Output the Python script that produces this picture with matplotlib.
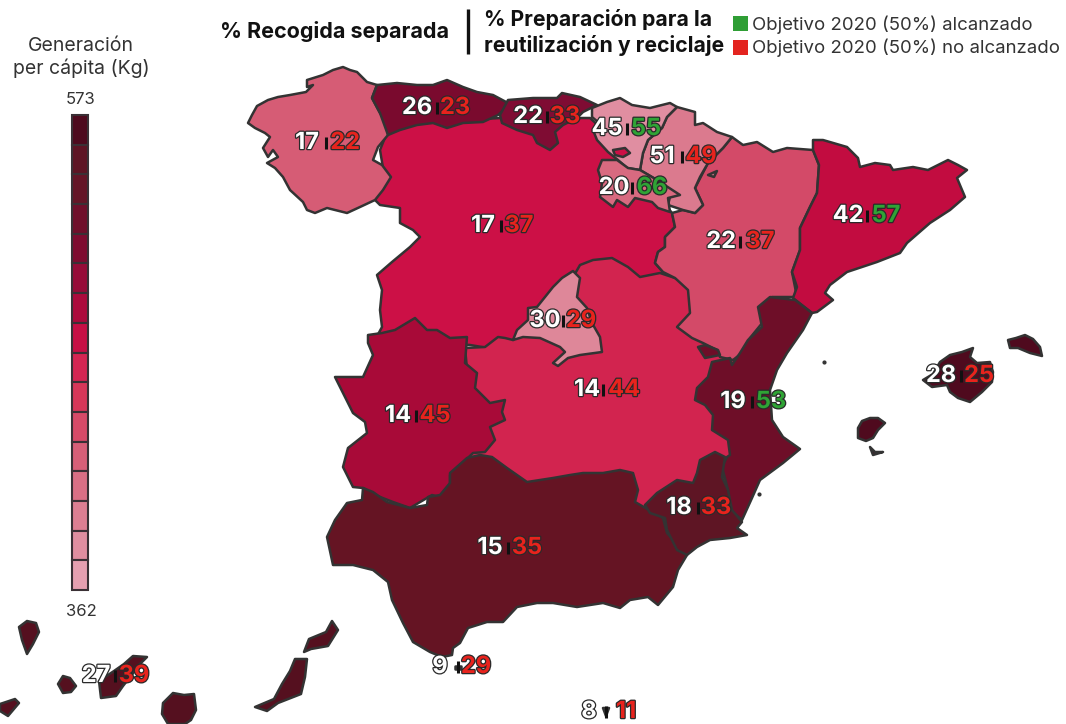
import matplotlib
matplotlib.use("Agg")
import matplotlib.pyplot as plt
import matplotlib.patheffects as pe
from matplotlib.patches import Polygon, Rectangle

plt.rcParams['font.family'] = ['Inter', 'Lato', 'DejaVu Sans']

# ---- data ----
regions = ["Galicia", "Asturias", "Cantabria", "País Vasco", "Navarra", "La Rioja",
           "Castilla y León", "Aragón", "Cataluña", "Madrid", "Castilla-La Mancha",
           "Extremadura", "C. Valenciana", "Murcia", "Andalucía", "Baleares",
           "Canarias", "Ceuta", "Melilla"]
recogida = [17, 26, 22, 45, 51, 20, 17, 22, 42, 30, 14, 14, 19, 18, 15, 28, 27, 9, 8]
preparacion = [22, 23, 33, 55, 49, 66, 37, 37, 57, 29, 44, 45, 53, 33, 35, 25, 39, 29, 11]
objetivo = 50
scale_max, scale_min = "573", "362"
scale_colors = ["#4e0a1e", "#5e1424", "#651527", "#700f2b", "#7e0c30", "#960c38", "#ac0a3c", "#c70f45",
                "#d42552", "#d63759", "#d64a68", "#d75f78", "#d96f85", "#dc7e92", "#df8ea0", "#e59fb0"]

# label anchor: (first number, separator, second number, y)
label_pos = [(307, 326, 345, 143), (417, 437, 455, 108), (528, 547, 565, 117), (607, 627, 646, 129),
             (662, 682, 701, 157), (614, 632, 652, 188), (483, 501, 519, 226), (721, 740, 760, 242),
             (848, 867, 886, 216), (545, 563, 581, 321), (587, 603, 624, 390), (398, 416, 435, 416),
             (733, 752, 771, 402), (679, 698, 716, 508), (490, 508, 527, 548), (941, 961, 979, 376),
             (96, 115, 134, 676), (440, 458, 476, 667), (589, 606, 626, 712)]

# ---- outlines in image pixels, painted bottom to top ----
cyl = [(380,150),(390,125),(500,118),(590,118),(625,150),(650,195),(668,208),(672,213),(675,227),(665,237),
       (665,247),(658,252),(655,263),(663,272),(640,290),(500,350),(470,345),(375,340),(382,327),(380,310),
       (382,290),(377,275),(392,262),(410,247),(420,237),(413,230),(400,223),(400,208),(380,205),(375,200),(385,180)]
galicia = [(377,85),(367,82),(357,72),(350,70),(343,67),(333,70),(323,75),(307,80),(307,87),(313,85),(306,92),(290,95),
           (278,97),(268,100),(257,106),(252,115),(248,123),(255,128),(265,133),(270,137),(263,148),(268,157),
           (273,150),(278,157),(267,163),(275,168),(283,177),(290,190),(303,202),(307,210),(315,213),(327,208),
           (347,213),(360,207),(375,200),(383,190),(391,177),(382,165),(373,160),(378,147),(388,135),(387,123),
           (380,113),(372,98)]
asturias = [(377,85),(372,98),(380,113),(388,135),(400,130),(417,125),(433,123),(447,128),(463,123),(483,122),
            (498,115),(507,107),(508,103),(493,95),(477,92),(463,87),(447,80),(433,85),(417,85),(397,83)]
cantabria = [(508,100),(533,98),(557,98),(562,93),(580,97),(597,105),(583,112),(577,118),(563,125),(555,132),
             (558,143),(550,150),(537,143),(533,135),(517,130),(502,123),(500,115)]
clm = [(465,348),(485,347),(498,337),(505,338),(513,340),(560,300),(580,265),(593,260),(612,258),(628,267),
       (640,277),(660,273),(675,278),(700,290),(735,345),(735,470),(660,515),(600,520),(500,490),(470,470),(470,400)]
madrid = [(573,271),(580,278),(577,297),(587,308),(592,323),(600,337),(602,352),(580,355),(568,358),(558,366),
          (553,363),(565,352),(560,347),(540,338),(523,337),(513,340),(517,330),(528,320),(528,308),(537,307),
          (553,287),(562,278)]
aragon = [(732,137),(743,145),(757,142),(773,152),(787,148),(813,150),(819,165),(817,193),(810,207),(800,228),
          (800,250),(792,272),(797,297),(772,297),(760,307),(763,322),(750,338),(742,353),(733,360),(720,357),
          (717,350),(703,343),(692,338),(677,327),(690,313),(688,290),(675,278),(663,272),(655,263),(658,252),
          (665,247),(665,237),(675,227),(672,213),(683,210),(695,213),(703,205),(695,188),(708,163),(723,148)]
cataluna = [(813,140),(823,140),(847,147),(858,158),(860,167),(875,163),(890,165),(893,170),(913,167),(928,170),
            (948,160),(958,165),(967,170),(957,178),(965,197),(950,210),(930,223),(907,243),(900,253),(877,262),
            (847,272),(830,285),(825,293),(833,300),(817,312),(812,313),(793,298),(797,287),(792,272),(800,250),
            (800,228),(810,207),(817,193),(819,165),(813,150)]
navarra = [(677,107),(695,112),(695,125),(703,123),(717,132),(732,137),(723,148),(708,163),(700,177),(695,188),
           (703,205),(695,213),(683,210),(668,205),(670,197),(657,180),(640,170),(643,153),(648,140),(662,128),(667,117)]
pais_vasco = [(592,108),(607,102),(620,98),(632,105),(650,108),(670,103),(677,107),(667,117),(662,128),(648,140),
              (643,153),(640,170),(627,168),(618,160),(608,152),(597,140),(593,130),(598,122),(592,117)]
trevino = [(613,150),(625,148),(630,153),(623,157),(615,155)]
rioja = [(602,160),(617,160),(628,168),(640,170),(657,180),(680,195),(668,198),(670,212),(658,208),(652,202),
         (635,198),(628,207),(617,200),(613,207),(600,197),(602,183),(598,170)]
petilla = [(708,175),(717,171),(714,177)]
extremadura = [(368,335),(382,333),(395,330),(415,318),(427,330),(437,330),(450,338),(467,337),(465,363),(477,373),
               (475,388),(490,403),(505,400),(502,412),(505,420),(490,427),(495,440),(485,452),(473,453),(450,475),
               (450,488),(442,498),(432,495),(410,508),(393,502),(375,495),(363,488),(353,487),(343,467),(348,448),
               (367,433),(365,422),(353,413),(345,397),(335,377),(363,377),(373,355),(368,343)]
andalucia = [(480,455),(492,457),(507,468),(527,482),(553,478),(570,475),(583,473),(603,473),(620,470),(633,473),
             (638,490),(635,502),(663,518),(667,533),(687,555),(678,570),(673,587),(658,605),(648,597),(630,600),
             (620,608),(603,603),(577,607),(553,603),(537,603),(517,607),(503,622),(487,622),(468,628),(460,643),
             (453,648),(452,655),(442,657),(430,652),(413,642),(403,623),(392,600),(388,582),(373,570),(353,565),
             (333,565),(327,537),(335,520),(347,503),(362,500),(363,488),(373,492),(387,502),(410,508),(427,505),
             (428,497),(440,495),(450,483),(450,473),(467,458)]
valencia = [(770,297),(795,300),(812,313),(803,330),(787,353),(777,370),(770,390),(772,420),(783,437),(800,449),
            (783,463),(760,480),(752,498),(742,520),(728,508),(728,490),(722,467),(727,457),(730,455),(728,440),
            (712,430),(713,415),(705,405),(695,400),(697,388),(708,377),(712,362),(730,358),(732,365),(740,353),
            (748,340),(762,327),(758,307)]
ademuz = [(698,347),(705,345),(718,350),(720,355),(705,358)]
murcia = [(715,452),(725,457),(722,477),(728,490),(732,510),(742,522),(737,528),(747,535),(730,538),(710,540),
          (697,547),(687,555),(677,550),(667,530),(665,518),(650,513),(645,505),(657,493),(677,480),(693,483),
          (697,473),(700,460)]
mallorca = [(923,380),(933,374),(940,362),(950,355),(962,352),(973,348),(970,357),(977,363),(990,362),(993,372),(992,382),(982,392),
            (970,402),(958,398),(950,392),(947,385),(932,387)]
menorca = [(1008,340),(1016,338),(1025,335),(1033,339),(1040,347),(1042,356),(1030,353),(1018,348),(1010,348)]
ibiza = [(858,428),(862,421),(870,418),(878,418),(885,423),(878,430),(873,438),(866,441),(858,438)]
formentera = [(870,447),(875,452),(883,452),(873,455)]
la_palma = [(19,627),(27,621),(36,623),(39,632),(33,644),(27,654),(22,640)]
gomera = [(58,684),(63,676),(70,678),(76,686),(71,692),(63,693)]
tenerife = [(147,657),(133,656),(124,664),(114,671),(99,681),(101,698),(116,696),(123,686),(134,672),(139,665)]
hierro = [(0,704),(15,699),(19,703),(8,716),(0,711)]
gran_canaria = [(173,693),(184,695),(194,694),(196,710),(191,720),(185,724),(168,724),(162,714),(163,703)]
fuerteventura = [(295,659),(307,659),(305,677),(301,694),(278,703),(267,711),(255,707),(274,699),(282,684),(290,671)]
lanzarote = [(332,621),(338,630),(328,646),(311,649),(304,652),(309,639),(326,632)]
ceuta = [(455,666),(461,666),(461,669),(455,669)]
melilla = [(603,708),(609,708),(606,716)]

shapes = [(cyl, "#cc1046"), (galicia, "#d65c75"), (asturias, "#7a0a2e"), (cantabria, "#7f0c33"),
          (clm, "#d2244f"), (madrid, "#de8799"), (aragon, "#d34a68"), (cataluna, "#c20c40"),
          (navarra, "#db7a8e"), (pais_vasco, "#e08ea1"), (trevino, "#cc1046"), (rioja, "#d86a80"),
          (petilla, "#db7a8e"), (extremadura, "#a80a38"), (andalucia, "#651423"), (valencia, "#6e0e28"),
          (ademuz, "#6e0e28"), (murcia, "#5e1524"), (mallorca, "#4f0a1e"), (menorca, "#4f0a1e"),
          (ibiza, "#4f0a1e"), (formentera, "#4f0a1e"), (la_palma, "#55101f"), (gomera, "#55101f"),
          (tenerife, "#55101f"), (hierro, "#55101f"), (gran_canaria, "#55101f"), (fuerteventura, "#55101f"),
          (lanzarote, "#55101f"), (ceuta, "#333333"), (melilla, "#333333")]

# ---- figure ----
fig = plt.figure(figsize=(10.66, 7.24), dpi=100, facecolor="white")
ax = fig.add_axes([0, 0, 1, 1])
ax.set_xlim(0, 1066)
ax.set_ylim(724, 0)
ax.axis("off")

EDGE = "#333333"
for pts, col in shapes:
    ax.add_patch(Polygon(pts, closed=True, facecolor=col, edgecolor=EDGE, linewidth=1.8, joinstyle="round"))
ax.plot([824, 759], [362, 494], ls="none", marker="o", ms=2, color=EDGE)

# ---- region labels ----
GREEN, RED = "#2fa335", "#e8231d"
def number(x, y, s, col):
    ax.text(x, y, s, color=col, fontsize=17, fontweight="bold", ha="center", va="center",
            path_effects=[pe.withStroke(linewidth=1.8, foreground="#2a2a2a")], zorder=5)

for (x1, xs, x2, y), a, b in zip(label_pos, recogida, preparacion):
    number(x1, y, str(a), "white")
    ax.plot([xs, xs], [y - 6, y + 6], color="#111111", lw=2.2, zorder=5, solid_capstyle="butt")
    number(x2, y, str(b), GREEN if b >= objetivo else RED)

# ---- colour scale ----
n = len(scale_colors)
bar_top, bar_bottom = 115, 590
step = (bar_bottom - bar_top) / n
for i, col in enumerate(scale_colors):
    ax.add_patch(Rectangle((72, bar_top + i * step), 16, step, facecolor=col, edgecolor="#3a3035", linewidth=1.5))

GREY = "#333333"
ax.text(81, 46, "Generación", ha="center", va="center", fontsize=14, color=GREY)
ax.text(81, 68, "per cápita (Kg)", ha="center", va="center", fontsize=14, color=GREY)
ax.text(81, 99, scale_max, ha="center", va="center", fontsize=12, color=GREY)
ax.text(81, 612, scale_min, ha="center", va="center", fontsize=12, color=GREY)

# ---- header ----
ax.text(335, 32, "% Recogida separada", ha="center", va="center", fontsize=15.5, fontweight="bold", color="#111111")
ax.plot([468, 468], [9, 54], color="#111111", lw=2.4, solid_capstyle="butt")
ax.text(484, 20, "% Preparación para la", ha="left", va="center", fontsize=15.3, fontweight="bold", color="#111111")
ax.text(484, 46, "reutilización y reciclaje", ha="left", va="center", fontsize=15.3, fontweight="bold", color="#111111")

ax.add_patch(Rectangle((733, 16), 15, 15, facecolor="#2f9e35", edgecolor="none"))
ax.add_patch(Rectangle((733, 40), 15, 15, facecolor="#e3241f", edgecolor="none"))
ax.text(752, 25, "Objetivo 2020 (50%) alcanzado", ha="left", va="center", fontsize=13.4, color=GREY)
ax.text(752, 48, "Objetivo 2020 (50%) no alcanzado", ha="left", va="center", fontsize=13.4, color=GREY)

fig.savefig("out.png", dpi=100)
